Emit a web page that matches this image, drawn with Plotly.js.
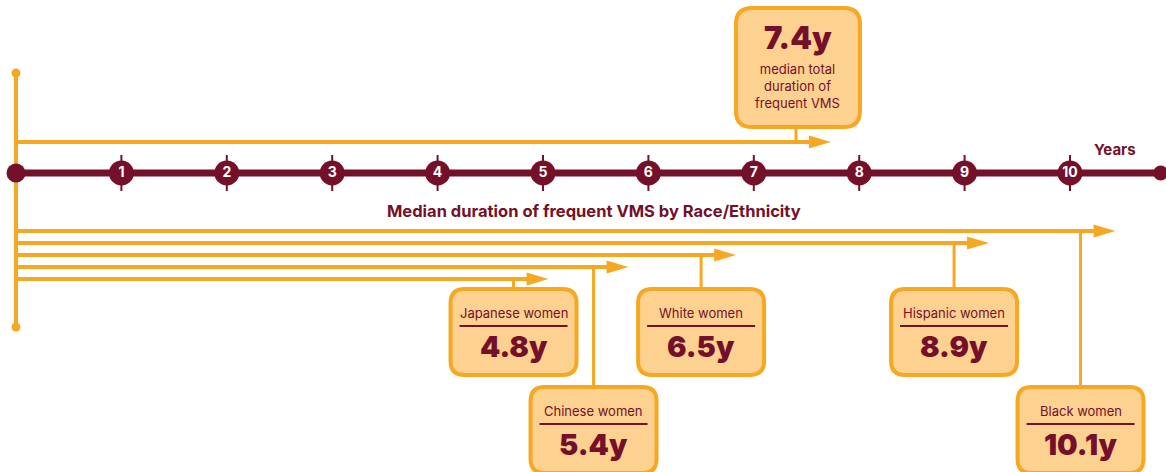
<!DOCTYPE html>
<html>
<head>
<meta charset="utf-8">
<script src="https://cdn.plot.ly/plotly-3.0.1.min.js"></script>
<style>
  html, body { margin: 0; padding: 0; background: #ffffff; }
  #chart { width: 1166px; height: 472px; }
</style>
</head>
<body>
<div id="chart"></div>
<script>
// ---------------- DATA ----------------
const categories = ["Japanese women", "Chinese women", "White women", "Hispanic women", "Black women"];
const medianYears = [4.8, 5.4, 6.5, 8.9, 10.1];
const totalMedian = 7.4;
const totalLabelLines = ["median total", "duration of", "frequent VMS"];
const tickValues = [1, 2, 3, 4, 5, 6, 7, 8, 9, 10];
const tickLabels = ["1", "2", "3", "4", "5", "6", "7", "8", "9", "10"];
const axisTitle = "Years";
const groupTitle = "Median duration of frequent VMS by Race/Ethnicity";

// ---------------- STYLE / LAYOUT CONSTANTS ----------------
const W = 1166, H = 472;
const X0_PX = 16;            // pixel of year 0
const PPY = 105.4;           // pixels per year
const ORANGE = "#F7A823";
const MAROON = "#741029";
const FILL = "#FDD18F";
const FONT = "Inter, 'Noto Sans', sans-serif";

const AXIS_Y = 173;
const AXIS_END = 10.86;
const TOTAL_ROW_Y = 142;
const ROW_TOP_Y = 231, ROW_STEP = 12;
const BOX_W = 126, BOX_H = 86, BOX_R = 14, BOX_GAP = 10;
const LEVEL_TOPS = [289, 387];
const MIN_CONNECTOR_SEP = 80; // px between connectors of neighbouring, staggered boxes
const OVERSHOOT_PX = 35;      // arrow runs past the connector
const HEAD_L = 22, HEAD_HW = 6.5;

const px = p => p / PPY;     // pixel width -> years

const shapes = [];
const annotations = [];

function roundedRect(cx, top, w, h, r) {
  const x0 = cx - px(w / 2), x1 = cx + px(w / 2), rx = px(r);
  const y0 = top, y1 = top + h;
  return `M ${x0 + rx},${y0} L ${x1 - rx},${y0} Q ${x1},${y0} ${x1},${y0 + r} ` +
         `L ${x1},${y1 - r} Q ${x1},${y1} ${x1 - rx},${y1} L ${x0 + rx},${y1} ` +
         `Q ${x0},${y1} ${x0},${y1 - r} L ${x0},${y0 + r} Q ${x0},${y0} ${x0 + rx},${y0} Z`;
}

function arrow(y, anchor) {
  const tip = anchor + px(OVERSHOOT_PX);
  shapes.push({ type: "line", xref: "x", yref: "y", x0: 0, x1: tip - px(HEAD_L - 2), y0: y, y1: y,
                line: { color: ORANGE, width: 4 }, layer: "below" });
  shapes.push({ type: "path", xref: "x", yref: "y",
                path: `M ${tip - px(HEAD_L)},${y - HEAD_HW} L ${tip},${y} L ${tip - px(HEAD_L)},${y + HEAD_HW} Z`,
                fillcolor: ORANGE, line: { width: 0 }, layer: "below" });
}

// vertical orange spine
shapes.push({ type: "line", xref: "x", yref: "y", x0: 0, x1: 0, y0: 73, y1: 327,
              line: { color: ORANGE, width: 4 }, layer: "below" });

// small tick lines on axis
tickValues.forEach(v => {
  shapes.push({ type: "line", xref: "x", yref: "y", x0: v, x1: v, y0: AXIS_Y - 18, y1: AXIS_Y + 18,
                line: { color: MAROON, width: 2 }, layer: "below" });
});

// ---- total ----
arrow(TOTAL_ROW_Y, totalMedian);
const totalTop = 8, totalH = 119, totalW = 124;
shapes.push({ type: "line", xref: "x", yref: "y", x0: totalMedian, x1: totalMedian,
              y0: totalTop + totalH, y1: TOTAL_ROW_Y, line: { color: ORANGE, width: 3 }, layer: "below" });
shapes.push({ type: "path", xref: "x", yref: "y", path: roundedRect(totalMedian + px(2), totalTop, totalW, totalH, 16),
              fillcolor: FILL, line: { color: ORANGE, width: 4 } });
annotations.push({ x: totalMedian + px(2), y: 37, xref: "x", yref: "y", text: totalMedian.toFixed(1) + "y",
                   showarrow: false, font: { family: FONT, size: 31, color: MAROON, weight: 900 } });
annotations.push({ x: totalMedian + px(2), y: 86, xref: "x", yref: "y", text: totalLabelLines.join("<br>"),
                   showarrow: false, font: { family: FONT, size: 13, color: MAROON } });

// ---- groups ----
const order = medianYears.map((v, i) => i).sort((a, b) => medianYears[b] - medianYears[a]);
const rowY = {};
order.forEach((idx, r) => { rowY[idx] = ROW_TOP_Y + r * ROW_STEP; });

const asc = medianYears.map((v, i) => i).sort((a, b) => medianYears[a] - medianYears[b]);
const levels = {};
const placed = [[], []];
asc.forEach(idx => {
  let lvl = 0;
  while (lvl < placed.length - 1 &&
         placed[lvl].some(o => Math.abs(medianYears[o] - medianYears[idx]) * PPY < BOX_W + BOX_GAP)) lvl++;
  placed[lvl].push(idx);
  levels[idx] = lvl;
});

// anchor (connector) positions: nudge apart staggered neighbours so connectors clear the boxes
const anchor = {};
medianYears.forEach((v, i) => { anchor[i] = v; });
for (let k = 1; k < asc.length; k++) {
  const a = asc[k - 1], b = asc[k];
  const sepPx = (anchor[b] - anchor[a]) * PPY;
  if (levels[a] !== levels[b] && sepPx < MIN_CONNECTOR_SEP) {
    const d = px((MIN_CONNECTOR_SEP - sepPx) / 2);
    anchor[a] -= d; anchor[b] += d;
  }
}

categories.forEach((name, i) => {
  const v = medianYears[i];
  const c = anchor[i];
  const y = rowY[i];
  const top = LEVEL_TOPS[levels[i]];
  arrow(y, c);
  shapes.push({ type: "line", xref: "x", yref: "y", x0: c, x1: c, y0: y, y1: top,
                line: { color: ORANGE, width: 3 }, layer: "below" });
  shapes.push({ type: "path", xref: "x", yref: "y", path: roundedRect(c, top, BOX_W, BOX_H, BOX_R),
                fillcolor: FILL, line: { color: ORANGE, width: 4 } });
  shapes.push({ type: "line", xref: "x", yref: "y", x0: c - px(54), x1: c + px(54), y0: top + 37, y1: top + 37,
                line: { color: MAROON, width: 2 } });
  annotations.push({ x: c, y: top + 24, xref: "x", yref: "y", text: name, showarrow: false,
                     font: { family: FONT, size: 13, color: MAROON } });
  annotations.push({ x: c, y: top + 57, xref: "x", yref: "y", text: v.toFixed(1) + "y", showarrow: false,
                     font: { family: FONT, size: 29, color: MAROON, weight: 900 } });
});

// titles
annotations.push({ x: AXIS_END - px(46), y: 149, xref: "x", yref: "y", text: axisTitle, showarrow: false,
                   font: { family: FONT, size: 15, color: MAROON, weight: 700 } });
annotations.push({ x: 0.5095, y: 211, xref: "paper", yref: "y", text: groupTitle, showarrow: false,
                   font: { family: FONT, size: 16.5, color: MAROON, weight: 700 } });

// ---------------- TRACES ----------------
const traces = [
  { type: "scatter", mode: "lines", x: [0, AXIS_END], y: [AXIS_Y, AXIS_Y],
    line: { color: MAROON, width: 7 }, hoverinfo: "skip" },
  { type: "scatter", mode: "markers", x: [0, 0], y: [73, 327],
    marker: { color: ORANGE, size: 9, opacity: 1, line: { width: 0 } }, hoverinfo: "skip" },
  { type: "scatter", mode: "markers", x: [0, AXIS_END], y: [AXIS_Y, AXIS_Y],
    marker: { color: MAROON, size: [19, 15], opacity: 1, line: { width: 0 } }, hoverinfo: "skip" },
  { type: "scatter", mode: "markers+text", x: tickValues, y: tickValues.map(() => AXIS_Y),
    text: tickLabels, textposition: "middle center",
    textfont: { family: FONT, size: 14, color: "#ffffff", weight: 700 },
    marker: { color: MAROON, size: 25, opacity: 1, line: { width: 0 } }, hoverinfo: "skip" }
];

const layout = {
  width: W, height: H,
  margin: { l: 0, r: 0, t: 0, b: 0, pad: 0 },
  paper_bgcolor: "#ffffff", plot_bgcolor: "#ffffff",
  showlegend: false,
  xaxis: { range: [-X0_PX / PPY, (W - X0_PX) / PPY], visible: false, fixedrange: true },
  yaxis: { range: [H, 0], visible: false, fixedrange: true },
  shapes: shapes,
  annotations: annotations,
  hovermode: false
};

Plotly.newPlot("chart", traces, layout, { displayModeBar: false, staticPlot: true });
</script>
</body>
</html>
